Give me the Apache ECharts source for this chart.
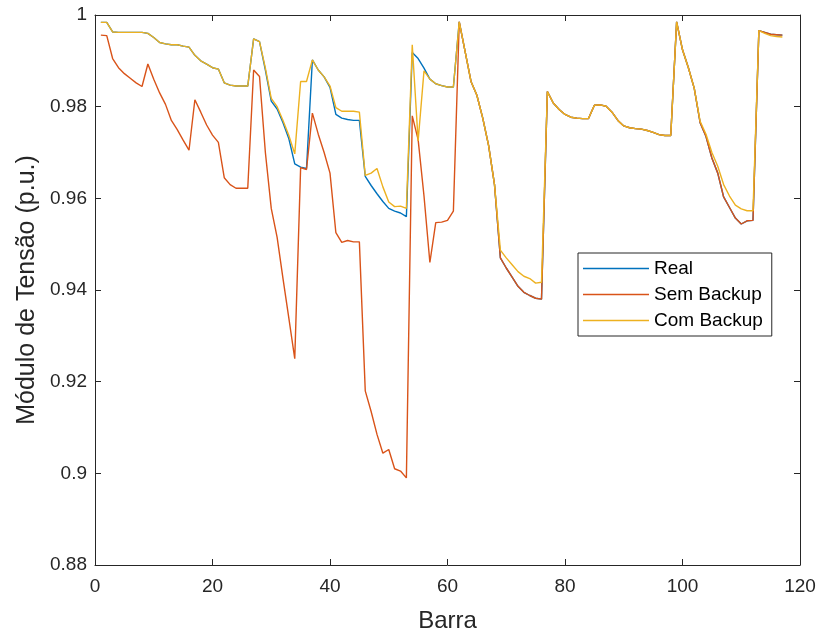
<!DOCTYPE html>
<html>
<head>
<meta charset="utf-8">
<script src="https://cdn.jsdelivr.net/npm/echarts@6/dist/echarts.min.js"></script>
<style>
html,body{margin:0;padding:0;background:#fff;}
#chart{width:819px;height:638px;}
</style>
</head>
<body>
<div id="chart"></div>
<script>
// Bus numbers (Barra)
const barra = Array.from({length: 117}, (_, i) => i + 1);

const real = [
0.9984,0.9984,0.9963,0.9962,0.9962,0.9962,0.9962,0.9962,0.9960,0.9951,
0.9940,0.9937,0.9935,0.9935,0.9932,0.9930,0.9912,0.9900,0.9893,0.9885,
0.9882,0.9852,0.9847,0.9845,0.9845,0.9845,0.9948,0.9942,0.9880,0.9812,
0.9795,0.9765,0.9730,0.9675,0.9668,0.9665,0.9902,0.9880,0.9865,0.9842,
0.9783,0.9775,0.9772,0.9770,0.9770,0.9648,0.9628,0.9610,0.9593,0.9578,
0.9572,0.9568,0.9560,0.9918,0.9905,0.9884,0.9860,0.9850,0.9846,0.9843,
0.9843,0.9985,0.9920,0.9855,0.9825,0.9775,0.9715,0.9630,0.9470,0.9448,
0.9428,0.9408,0.9395,0.9388,0.9382,0.9380,0.9833,0.9808,0.9794,0.9783,
0.9777,0.9775,0.9774,0.9774,0.9803,0.9804,0.9801,0.9788,0.9770,0.9758,
0.9754,0.9752,0.9751,0.9748,0.9744,0.9739,0.9737,0.9737,0.9985,0.9924,
0.9885,0.9840,0.9765,0.9735,0.9688,0.9655,0.9603,0.9580,0.9557,0.9544,
0.9551,0.9552,0.9966,0.9962,0.9958,0.9957,0.9956
];

const semBackup = [
0.9956,0.9955,0.9905,0.9885,0.9872,0.9862,0.9852,0.9844,0.9893,0.9860,
0.9830,0.9805,0.9770,0.9750,0.9727,0.9705,0.9815,0.9788,0.9760,0.9738,
0.9722,0.9645,0.9630,0.9622,0.9622,0.9622,0.9880,0.9866,0.9700,0.9578,
0.9515,0.9425,0.9338,0.9250,0.9667,0.9663,0.9786,0.9740,0.9700,0.9655,
0.9525,0.9504,0.9508,0.9505,0.9505,0.9180,0.9135,0.9085,0.9044,0.9052,
0.9010,0.9005,0.8990,0.9780,0.9728,0.9605,0.9460,0.9547,0.9548,0.9552,
0.9572,0.9985,0.9920,0.9855,0.9825,0.9775,0.9715,0.9630,0.9470,0.9448,
0.9428,0.9408,0.9395,0.9388,0.9382,0.9380,0.9833,0.9808,0.9794,0.9783,
0.9777,0.9775,0.9774,0.9774,0.9803,0.9804,0.9801,0.9788,0.9770,0.9758,
0.9754,0.9752,0.9751,0.9748,0.9744,0.9739,0.9737,0.9737,0.9985,0.9924,
0.9885,0.9840,0.9765,0.9735,0.9688,0.9655,0.9603,0.9580,0.9557,0.9544,
0.9551,0.9552,0.9966,0.9962,0.9958,0.9957,0.9956
];

const comBackup = [
0.9984,0.9984,0.9963,0.9962,0.9962,0.9962,0.9962,0.9962,0.9960,0.9951,
0.9940,0.9937,0.9935,0.9935,0.9932,0.9930,0.9912,0.9900,0.9893,0.9885,
0.9882,0.9852,0.9847,0.9845,0.9845,0.9845,0.9948,0.9942,0.9884,0.9818,
0.9800,0.9770,0.9737,0.9697,0.9855,0.9855,0.9902,0.9880,0.9865,0.9845,
0.9798,0.9790,0.9790,0.9790,0.9788,0.9650,0.9655,0.9665,0.9625,0.9592,
0.9582,0.9583,0.9578,0.9935,0.9725,0.9878,0.9860,0.9850,0.9846,0.9843,
0.9843,0.9985,0.9920,0.9855,0.9825,0.9775,0.9715,0.9630,0.9487,0.9470,
0.9455,0.9440,0.9430,0.9425,0.9415,0.9417,0.9833,0.9808,0.9794,0.9783,
0.9777,0.9775,0.9774,0.9774,0.9803,0.9804,0.9801,0.9788,0.9770,0.9758,
0.9754,0.9752,0.9751,0.9748,0.9744,0.9739,0.9737,0.9737,0.9985,0.9924,
0.9885,0.9840,0.9768,0.9740,0.9700,0.9670,0.9630,0.9605,0.9585,0.9577,
0.9573,0.9573,0.9966,0.9960,0.9955,0.9953,0.9952
];

const seriesNames = ['Real', 'Sem Backup', 'Com Backup'];
const seriesColors = ['#0072BD', '#D95319', '#EDB120'];

const FONT = '"Liberation Sans", Arial, Helvetica, sans-serif';
const AX = '#262626';

function pairs(vals) { return vals.map((v, i) => [barra[i], v]); }

const chart = echarts.init(document.getElementById('chart'), null, {renderer: 'canvas'});

const axCommon = {
  axisLine: {show: true, onZero: false, lineStyle: {color: AX, width: 1}},
  axisTick: {show: true, inside: true, length: 6, lineStyle: {color: AX, width: 1}},
  splitLine: {show: false}
};

chart.setOption({
  animation: false,
  backgroundColor: '#fff',
  textStyle: {fontFamily: FONT},
  grid: {left: 95, right: 19, top: 15, bottom: 71, containLabel: false},
  xAxis: [
    Object.assign({
      type: 'value', position: 'bottom', min: 0, max: 120, interval: 20,
      axisLabel: {fontSize: 19, color: AX, margin: 12, fontFamily: FONT},
      name: 'Barra', nameLocation: 'middle', nameGap: 44,
      nameTextStyle: {fontSize: 24, color: AX, fontFamily: FONT}
    }, axCommon),
    Object.assign({
      type: 'value', position: 'top', min: 0, max: 120, interval: 20,
      axisLabel: {show: false}
    }, axCommon)
  ],
  yAxis: [
    Object.assign({
      type: 'value', position: 'left', min: 0.88, max: 1, interval: 0.02,
      axisLabel: {fontSize: 19, color: AX, margin: 8, fontFamily: FONT},
      name: 'Módulo de Tensão (p.u.)', nameLocation: 'middle', nameGap: 52,
      nameTextStyle: {fontSize: 25, color: AX, fontFamily: FONT}
    }, axCommon),
    Object.assign({
      type: 'value', position: 'right', min: 0.88, max: 1, interval: 0.02,
      axisLabel: {show: false}
    }, axCommon)
  ],
  legend: {
    data: seriesNames,
    orient: 'vertical',
    left: 578, top: 253,
    backgroundColor: '#fff',
    borderColor: AX, borderWidth: 1,
    padding: [6, 9, 6, 5],
    icon: 'rect',
    itemWidth: 66, itemHeight: 1.5, itemGap: 7,
    textStyle: {fontSize: 19, color: '#000', fontFamily: FONT, padding: [0, 0, 0, 0]},
    itemStyle: {borderWidth: 0}
  },
  series: [
    {name: seriesNames[0], type: 'line', data: pairs(real), symbol: 'none', color: seriesColors[0], lineStyle: {width: 1.4, color: seriesColors[0]}, xAxisIndex: 0, yAxisIndex: 0},
    {name: seriesNames[1], type: 'line', data: pairs(semBackup), symbol: 'none', color: seriesColors[1], lineStyle: {width: 1.4, color: seriesColors[1]}, xAxisIndex: 0, yAxisIndex: 0},
    {name: seriesNames[2], type: 'line', data: pairs(comBackup), symbol: 'none', color: seriesColors[2], lineStyle: {width: 1.4, color: seriesColors[2]}, xAxisIndex: 0, yAxisIndex: 0}
  ]
});
</script>
</body>
</html>
